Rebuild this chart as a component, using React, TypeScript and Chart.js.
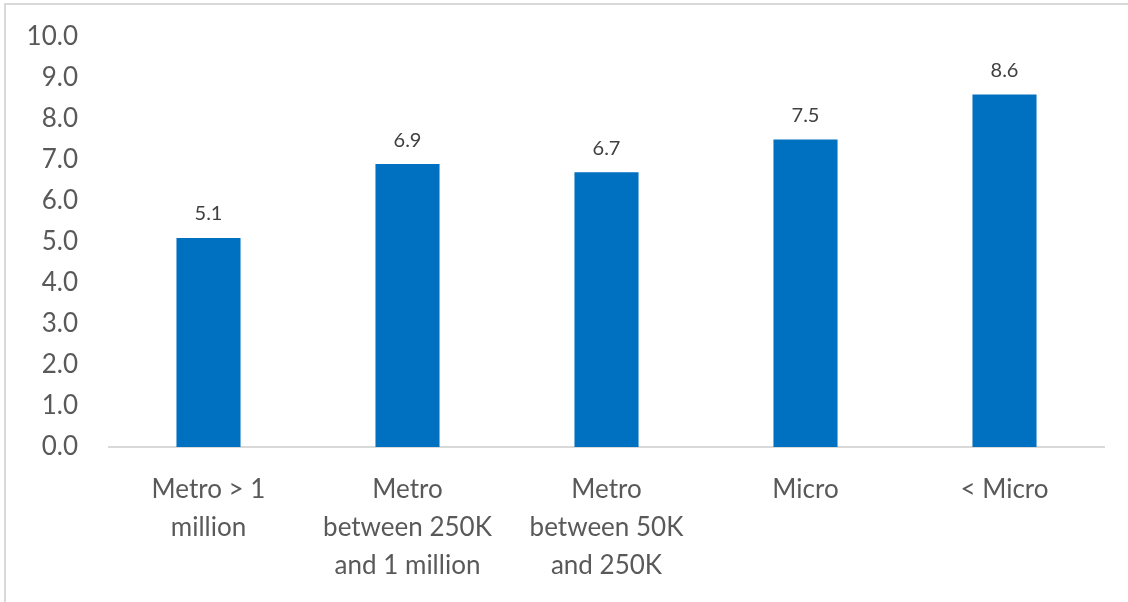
import React, { useEffect, useRef } from "react";
import { Chart, registerables } from "chart.js";

Chart.register(...registerables);

const categories: (string | string[])[] = [
  ["Metro > 1", "million"],
  ["Metro", "between 250K", "and 1 million"],
  ["Metro", "between 50K", "and 250K"],
  "Micro",
  "< Micro",
];
const values: number[] = [5.1, 6.9, 6.7, 7.5, 8.6];
const yMin = 0;
const yMax = 10;
const yStep = 1;

const FONT = "Lato, 'Open Sans', sans-serif";

const valueLabels = {
  id: "valueLabels",
  afterDatasetsDraw(chart: any) {
    const ctx = chart.ctx;
    const meta = chart.getDatasetMeta(0);
    ctx.save();
    ctx.font = `20px ${FONT}`;
    ctx.fillStyle = "#404040";
    ctx.textAlign = "center";
    ctx.textBaseline = "middle";
    meta.data.forEach((bar: any, i: number) => {
      ctx.fillText(values[i].toFixed(1), bar.x, bar.y - 24);
    });
    ctx.restore();
  },
};

export default function App() {
  const ref = useRef<HTMLCanvasElement | null>(null);
  useEffect(() => {
    if (!ref.current) return;
    const chart = new Chart(ref.current, {
      type: "bar",
      data: {
        labels: categories,
        datasets: [
          {
            data: values,
            backgroundColor: "#0070C0",
            barPercentage: 0.322,
            categoryPercentage: 1,
          },
        ],
      },
      options: {
        animation: false,
        responsive: false,
        maintainAspectRatio: false,
        layout: { padding: { top: 37, right: 24, left: 0, bottom: 0 } },
        plugins: { legend: { display: false }, tooltip: { enabled: false } },
        scales: {
          x: {
            grid: { display: false, drawTicks: false },
            border: { display: true, color: "#d9d9d9", width: 2 },
            ticks: {
              color: "#595959",
              font: { family: FONT, size: 26, lineHeight: "38px" },
              padding: 24,
              maxRotation: 0,
              autoSkip: false,
            },
            afterFit(scale: any) {
              scale.height = 602 - 447;
              scale.paddingTop = 0;
              scale.paddingBottom = 0;
            },
          },
          y: {
            min: yMin,
            max: yMax,
            grid: { display: false, drawTicks: false },
            border: { display: false },
            ticks: {
              stepSize: yStep,
              color: "#595959",
              font: { family: FONT, size: 26 },
              padding: 31,
              callback: (v: any) => Number(v).toFixed(1),
            },
            afterFit(scale: any) {
              scale.width = 109;
              scale.paddingTop = 0;
              scale.paddingBottom = 0;
            },
          },
        },
      },
      plugins: [valueLabels],
    });
    return () => chart.destroy();
  }, []);
  return (
    <div
      style={{
        position: "absolute",
        left: 0,
        top: 0,
        width: 1128,
        height: 602,
        background: "#fff",
      }}
    >
      <div
        style={{
          position: "absolute",
          left: 4,
          top: 3,
          width: 1140,
          height: 620,
          border: "2px solid #d9d9d9",
          boxSizing: "border-box",
        }}
      />
      <canvas
        ref={ref}
        width={1128}
        height={602}
        style={{ position: "absolute", left: 0, top: 0, width: 1128, height: 602 }}
      />
    </div>
  );
}
